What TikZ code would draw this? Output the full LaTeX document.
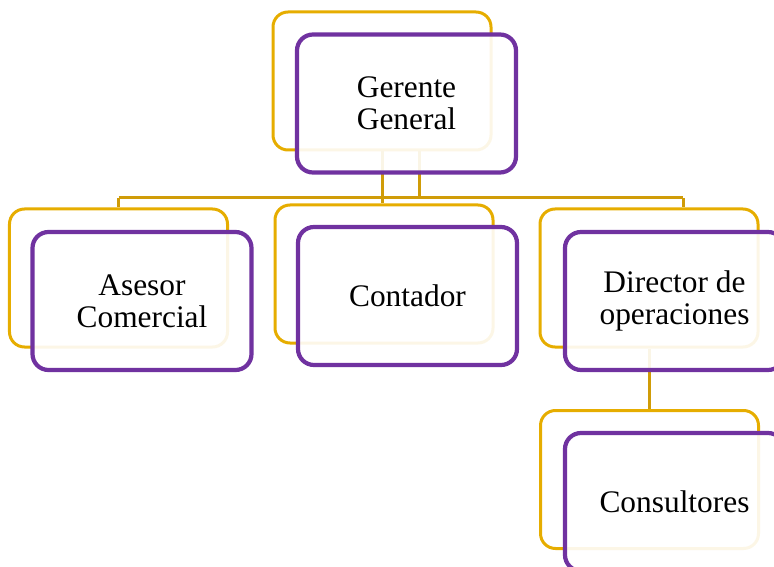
\documentclass[tikz,border=0pt]{standalone}
\usepackage{fontspec}
\setmainfont{Liberation Serif}
\usepackage{tikz}
\usetikzlibrary{positioning}
\definecolor{orggold}{RGB}{230,173,0}
\definecolor{orgline}{RGB}{208,156,8}
\definecolor{orgpurple}{RGB}{112,50,160}
\tikzset{
  backbox/.style={
    rectangle,
    rounded corners=15bp,
    draw=orggold,
    line width=3bp,
    minimum width=218bp,
    minimum height=138bp,
    inner sep=0pt
  },
  frontbox/.style={
    rectangle,
    rounded corners=16bp,
    draw=orgpurple,
    line width=4.2bp,
    fill=white,
    fill opacity=0.9,
    text opacity=1,
    align=center,
    minimum width=219bp,
    minimum height=138bp,
    inner sep=0pt,
    font=\fontsize{31.5pt}{32pt}\selectfont
  },
  orgconn/.style={
    draw=orgline,
    line width=3bp
  }
}

\begin{document}
\begin{tikzpicture}[x=1bp,y=-1bp]
\useasboundingbox (0,0) rectangle (774,567);
\clip (0,0) rectangle (774,567);

% back frames
\node[backbox] (gerenteback) at (382,81) {};
\node[backbox] (asesorback) at (118.5,278) {};
\node[backbox] (contadorback) at (384,274) {};
\node[backbox] (directorback) at (649,278) {};
\node[backbox] (consultback) at (649.5,479.5) {};

% connectors
\coordinate (busleft) at (118.5,198);
\coordinate (busright) at (683,198);
\coordinate (busmid) at (419,198);
\draw[orgconn] (busleft) -- (busright);
\draw[orgconn] (gerenteback.south -| busmid) -- (busmid);
\draw[orgconn] (gerenteback.south) -- (contadorback.north -| gerenteback.south);
\draw[orgconn] (busleft) -- (asesorback.north);
\draw[orgconn] (busright) -- (directorback.north -| busright);
\draw[orgconn] (directorback.south) -- (consultback.north -| directorback.south);

% front boxes
\node[frontbox] (gerente) at (406.5,103.5) {Gerente\\General};
\node[frontbox] (asesor) at (142,301) {Asesor\\Comercial};
\node[frontbox] (contador) at (407.5,296) {Contador};
\node[frontbox] (director) at (674.5,301) {Director de\\operaciones};
\node[frontbox] (consult) at (674.5,502) {Consultores};
\end{tikzpicture}
\end{document}
